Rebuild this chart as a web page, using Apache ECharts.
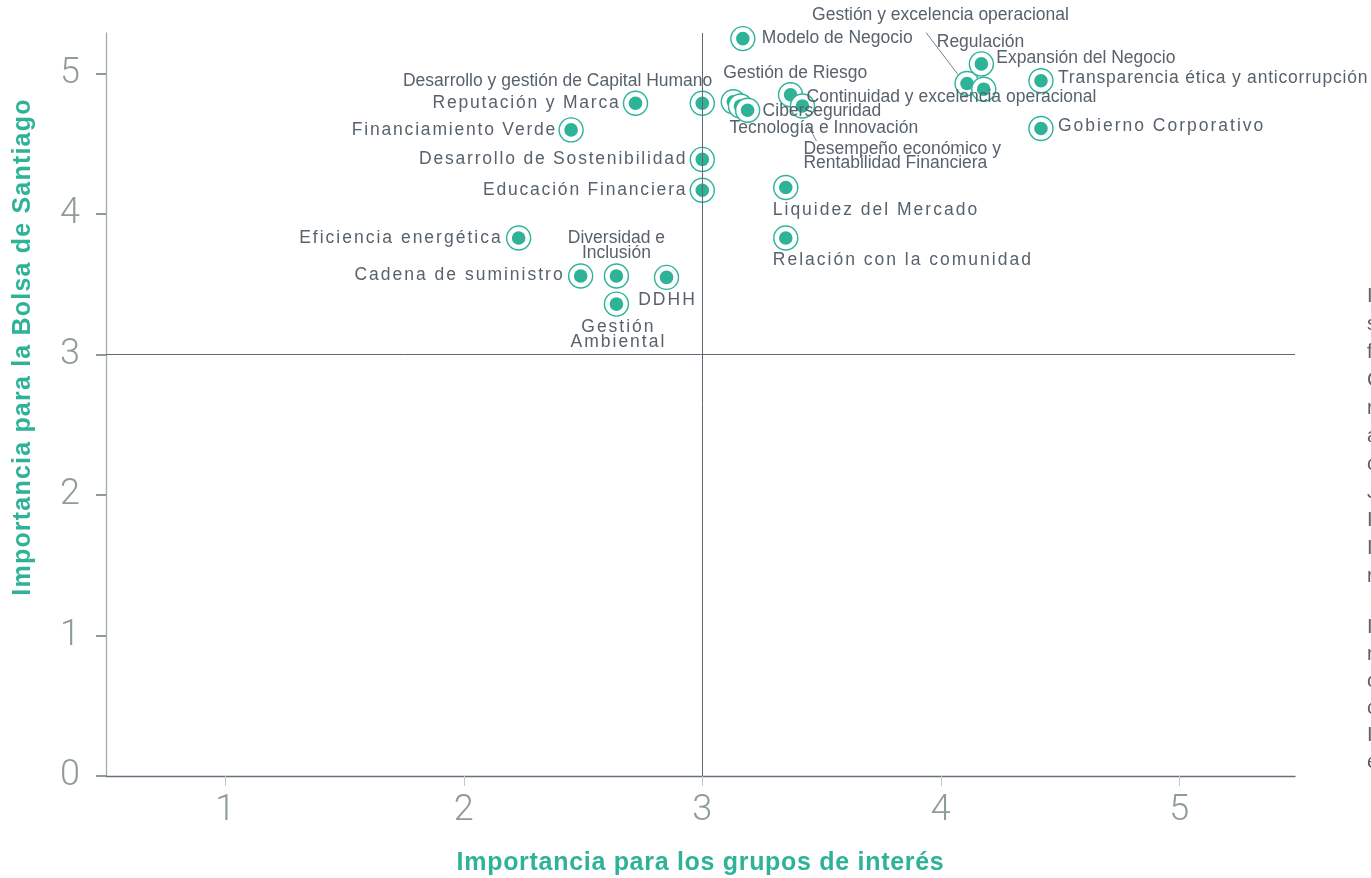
<!DOCTYPE html>
<html><head><meta charset="utf-8">
<script src="https://cdn.jsdelivr.net/npm/echarts@6/dist/echarts.min.js"></script>
<style>html,body{margin:0;padding:0;background:#fff;overflow:hidden}#chart{width:1371px;height:878px}</style>
</head><body><div id="chart"></div>
<script>
// ---------- DATA ----------
const topics = [
  'Modelo de Negocio',
  'Desarrollo y gestión de Capital Humano',
  'Reputación y Marca',
  'Financiamiento Verde',
  'Desarrollo de Sostenibilidad',
  'Educación Financiera',
  'Gestión de Riesgo',
  'Tecnología e Innovación',
  'Ciberseguridad',
  'Continuidad y excelencia operacional',
  'Desempeño económico y\nRentabilidad Financiera',
  'Expansión del Negocio',
  'Gestión y excelencia operacional',
  'Regulación',
  'Transparencia ética y anticorrupción',
  'Gobierno Corporativo',
  'Liquidez del Mercado',
  'Relación con la comunidad',
  'Eficiencia energética',
  'Cadena de suministro',
  'Diversidad e\nInclusión',
  'DDHH',
  'Gestión\nAmbiental'
];
const stakeholderImportance = [3.17, 3.0, 2.72, 2.45, 3.0, 3.0, 3.13, 3.16, 3.19, 3.37, 3.42, 4.17, 4.11, 4.18, 4.42, 4.42, 3.35, 3.35, 2.23, 2.49, 2.64, 2.85, 2.64];
const exchangeImportance   = [5.25, 4.79, 4.79, 4.60, 4.39, 4.17, 4.80, 4.77, 4.74, 4.85, 4.77, 5.07, 4.93, 4.89, 4.95, 4.61, 4.19, 3.83, 3.83, 3.56, 3.56, 3.55, 3.36];
const xTicks = [1, 2, 3, 4, 5];
const yTicks = [0, 1, 2, 3, 4, 5];
const xAxisTitle = 'Importancia para los grupos de interés';
const yAxisTitle = 'Importancia para la Bolsa de Santiago';
const sideLettersA = ['I', 's', 'f', 'C', 'r', 'a', 'c', 'J', 'I', 'I', 'r'];
const sideLettersB = ['I', 'r', 'c', 'c', 'I', 'e'];

// ---------- STYLE / LAYOUT ----------
const TEAL = '#2eb398';
const LABEL = '#57626c';
const AXISGRAY = '#8e9c9a';
// label placement relative to the point (pixels): dx, dy, align, spacing(px*10), lineHeight, leader
const labelLayout = {
  'Modelo de Negocio': {dx: 19, dy: 0, align: 'left', sp: 0},
  'Desarrollo y gestión de Capital Humano': {dx: 10, dy: -22, align: 'right', sp: 0},
  'Reputación y Marca': {dx: -15, dy: 0, align: 'right', sp: 18},
  'Financiamiento Verde': {dx: -14, dy: 0, align: 'right', sp: 18},
  'Desarrollo de Sostenibilidad': {dx: -15, dy: 0, align: 'right', sp: 18},
  'Educación Financiera': {dx: -15, dy: 0, align: 'right', sp: 18},
  'Gestión de Riesgo': {dx: -10, dy: -29, align: 'left', sp: 0},
  'Tecnología e Innovación': {dx: -11, dy: 22, align: 'left', sp: 0},
  'Ciberseguridad': {dx: 15, dy: 1, align: 'left', sp: 0},
  'Continuidad y excelencia operacional': {dx: 16, dy: 2, align: 'left', sp: 0},
  'Desempeño económico y\nRentabilidad Financiera': {dx: 1, dy: 50, align: 'left', sp: 0, lh: 14, lead: [5, 18, 14, 35]},
  'Expansión del Negocio': {dx: 15, dy: -6, align: 'left', sp: 0},
  'Gestión y excelencia operacional': {dx: -155, dy: -68, align: 'left', sp: 0, lead: [-41, -51, -9, -9]},
  'Regulación': {dx: -47, dy: -47, align: 'left', sp: 0},
  'Transparencia ética y anticorrupción': {dx: 17, dy: -3, align: 'left', sp: 8},
  'Gobierno Corporativo': {dx: 17, dy: -2, align: 'left', sp: 20},
  'Liquidez del Mercado': {dx: -13, dy: 23, align: 'left', sp: 20},
  'Relación con la comunidad': {dx: -13, dy: 22, align: 'left', sp: 20},
  'Eficiencia energética': {dx: -16, dy: 0, align: 'right', sp: 20},
  'Cadena de suministro': {dx: -16, dy: -1, align: 'right', sp: 20},
  'Diversidad e\nInclusión': {dx: 0, dy: -30, align: 'center', sp: 0, lh: 15},
  'DDHH': {dx: 1, dy: 23, align: 'center', sp: 20},
  'Gestión\nAmbiental': {dx: 2, dy: 31, align: 'center', sp: 20, lh: 15}
};

// letter-spacing support: a marker family "lspNN" in the font string sets NN/10 px spacing
(function () {
  const P = CanvasRenderingContext2D.prototype;
  if (!('letterSpacing' in P)) return;
  const f0 = P.fillText, m0 = P.measureText;
  function sp(ctx) { const m = /lsp(\d+)/.exec(ctx.font); return m ? (parseInt(m[1], 10) / 10) + 'px' : '0px'; }
  P.fillText = function () {
    this.letterSpacing = sp(this);
    const r = f0.apply(this, arguments);
    this.letterSpacing = '0px';
    return r;
  };
  P.measureText = function () {
    this.letterSpacing = sp(this);
    const r = m0.apply(this, arguments);
    this.letterSpacing = '0px';
    return r;
  };
})();

function labelFont(sp) {
  return '17.5px "Liberation Sans"' + (sp ? ', lsp' + sp : '');
}

const chart = echarts.init(document.getElementById('chart'), null, {renderer: 'canvas'});

const seriesData = topics.map((t, i) => [stakeholderImportance[i], exchangeImportance[i], t]);

const sideText = [];
sideLettersA.forEach((ch, i) => sideText.push({type: 'text', x: 1367, y: 296 + 28 * i,
  style: {text: ch, font: '20px "Liberation Sans"', fill: LABEL, verticalAlign: 'middle', align: 'left'}}));
sideLettersB.forEach((ch, i) => sideText.push({type: 'text', x: 1367, y: 627 + 27 * i,
  style: {text: ch, font: '20px "Liberation Sans"', fill: LABEL, verticalAlign: 'middle', align: 'left'}}));

const option = {
  animation: false,
  backgroundColor: '#ffffff',
  grid: {left: 106, right: 76, top: 33, bottom: 102, containLabel: false, outerBoundsMode: 'none'},
  xAxis: {
    type: 'value', min: 0.5, max: 5.485,
    splitLine: {show: false},
    axisLine: {show: true, onZero: false, lineStyle: {color: '#65717c', width: 1.3}},
    axisTick: {show: true, length: 10, customValues: xTicks, lineStyle: {color: '#c3c9c9', width: 1}},
    axisLabel: {customValues: xTicks, margin: 17, fontSize: 36, fontFamily: 'Roboto', fontWeight: 300, color: AXISGRAY},
    name: xAxisTitle, nameLocation: 'middle', nameGap: 74,
    nameTextStyle: {fontSize: 25, fontWeight: 'bold', fontFamily: '"Liberation Sans", lsp7', color: TEAL}
  },
  yAxis: {
    type: 'value', min: 0, max: 5.29,
    splitLine: {show: false},
    axisLine: {show: true, onZero: false, lineStyle: {color: '#a3abab', width: 1.3}},
    axisTick: {show: true, length: 10, customValues: yTicks, lineStyle: {color: '#8f9a9a', width: 2}},
    axisLabel: {customValues: yTicks, margin: 26, fontSize: 36, fontFamily: 'Roboto', fontWeight: 300, color: AXISGRAY}
  },
  graphic: [
    {type: 'text', x: 23, y: 347, rotation: Math.PI / 2,
      style: {text: yAxisTitle, font: 'bold 25px "Liberation Sans", lsp12', fill: TEAL, align: 'center', verticalAlign: 'middle'}}
  ].concat(sideText),
  series: [{
    type: 'custom',
    coordinateSystem: 'cartesian2d',
    clip: false,
    data: seriesData,
    encode: {x: 0, y: 1},
    markLine: {
      silent: true, symbol: 'none', animation: false,
      label: {show: false},
      lineStyle: {color: '#5d6873', width: 1, type: 'solid'},
      data: [{yAxis: 3}, {xAxis: 3}]
    },
    renderItem: function (params, api) {
      const i = params.dataIndex;
      const name = topics[i];
      const c = api.coord([api.value(0), api.value(1)]);
      const L = labelLayout[name] || {dx: 16, dy: 0, align: 'left', sp: 0};
      const children = [
        {type: 'circle', shape: {cx: c[0], cy: c[1], r: 12}, style: {fill: '#ffffff', stroke: TEAL, lineWidth: 1.4}},
        {type: 'circle', shape: {cx: c[0], cy: c[1], r: 6.8}, style: {fill: TEAL}},
        {type: 'text', z2: 100, x: c[0] + L.dx, y: c[1] + L.dy,
          style: {text: name, font: labelFont(L.sp), fill: LABEL, align: L.align,
            verticalAlign: 'middle', lineHeight: L.lh || 20}}
      ];
      if (L.lead) {
        children.push({type: 'line', z2: 90,
          shape: {x1: c[0] + L.lead[0], y1: c[1] + L.lead[1], x2: c[0] + L.lead[2], y2: c[1] + L.lead[3]},
          style: {stroke: '#6b757e', lineWidth: 0.9}});
      }
      return {type: 'group', children: children};
    }
  }]
};
chart.setOption(option);
</script>
</body></html>
